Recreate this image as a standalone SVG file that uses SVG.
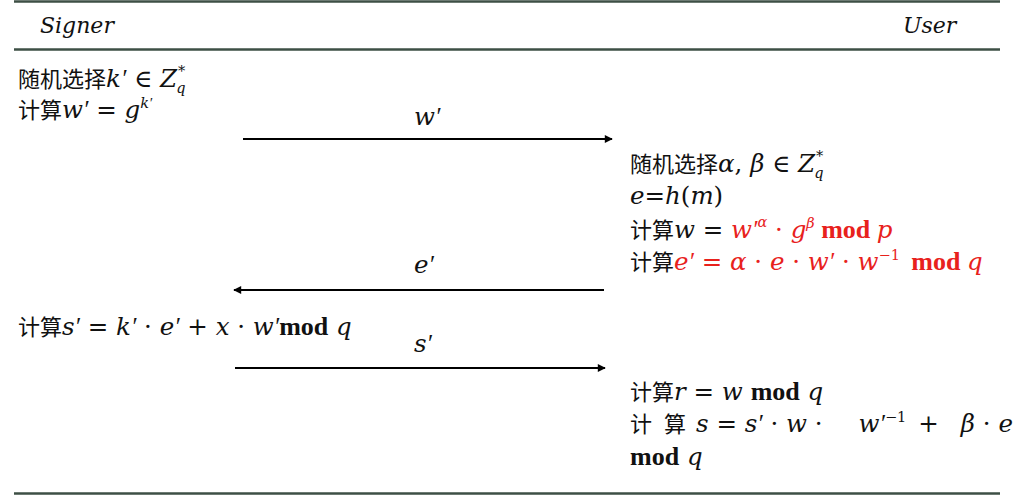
<svg xmlns="http://www.w3.org/2000/svg" width="1024" height="496" viewBox="0 0 1024 496">
<defs>
<marker id="ah" viewBox="0 0 10 10" refX="9" refY="5" markerWidth="10" markerHeight="8" markerUnits="userSpaceOnUse" orient="auto"><path d="M0,0 L10,5 L0,10 z" fill="#000"/></marker>
<style>
.rule{stroke:#3d4f45;stroke-width:2.5}
.t{font-family:"DejaVu Serif","Noto Sans CJK SC",serif;font-size:24.5px;fill:#111}
.h{font-size:22px}
.cjk{font-family:"Noto Sans CJK SC",sans-serif;font-size:22px}
.i{font-style:italic}
.b{font-weight:bold;font-family:"Liberation Serif",serif;font-size:26px}
.p{font-family:"Liberation Serif",serif;font-style:italic}
.r{fill:#e8211c}
.sup{font-size:14.5px}
.conn{stroke:#000;stroke-width:2;fill:none;marker-end:url(#ah)}
</style>
</defs>
<rect width="1024" height="496" fill="#fff"/>
<g id="table-rules">
<line class="rule" x1="14" y1="1.5" x2="1000" y2="1.5"/>
<line class="rule" x1="14" y1="49.5" x2="1000" y2="49.5"/>
<line class="rule" x1="14" y1="493.5" x2="1000" y2="493.5"/>
</g>
<g id="header-signer"><text class="t h i" x="40" y="33">Signer</text></g>
<g id="header-user"><text class="t h i" x="903" y="33">User</text></g>
<g id="signer-step1">
<text class="t" x="18" y="87"><tspan class="cjk">随机选择</tspan><tspan class="i">k</tspan><tspan class="p">′</tspan> ∈ <tspan class="i">Z</tspan><tspan class="i sup" dx="1" dy="-11">*</tspan><tspan class="i sup" dx="-9" dy="17">q</tspan></text>
<text class="t" x="18" y="118"><tspan class="cjk">计算</tspan><tspan class="i">w</tspan><tspan class="p">′</tspan> = <tspan class="i">g</tspan><tspan class="i sup" dy="-10">k</tspan><tspan class="p sup">′</tspan></text>
</g>
<g id="user-step1">
<text class="t" x="630" y="172"><tspan class="cjk">随机选择</tspan><tspan class="i">α</tspan>, <tspan class="i">β</tspan> ∈ <tspan class="i">Z</tspan><tspan class="i sup" dx="1" dy="-11">*</tspan><tspan class="i sup" dx="-9" dy="17">q</tspan></text>
<text class="t" x="630" y="204"><tspan class="i">e</tspan>=<tspan class="i">h</tspan>(<tspan class="i">m</tspan>)</text>
<text class="t" x="630" y="238"><tspan class="cjk">计算</tspan><tspan class="i">w</tspan> = <tspan class="r i">w</tspan><tspan class="r p">′</tspan><tspan class="r i sup" dy="-11">α</tspan><tspan class="r" dy="11"> · </tspan><tspan class="r i">g</tspan><tspan class="r i sup" dy="-10">β</tspan><tspan class="r b" dy="10"> mod </tspan><tspan class="r i">p</tspan></text>
<text class="t" x="630" y="270"><tspan class="cjk">计算</tspan><tspan class="r i">e</tspan><tspan class="r p">′</tspan><tspan class="r"> = </tspan><tspan class="r i">α</tspan><tspan class="r"> · </tspan><tspan class="r i">e</tspan><tspan class="r"> · </tspan><tspan class="r i">w</tspan><tspan class="r p">′</tspan><tspan class="r"> · </tspan><tspan class="r i">w</tspan><tspan class="r sup" dy="-10">−1</tspan><tspan class="r b" dy="10" dx="5"> mod </tspan><tspan class="r i">q</tspan></text>
</g>
<g id="signer-step2">
<text class="t" x="18" y="335"><tspan class="cjk">计算</tspan><tspan class="i">s</tspan><tspan class="p">′</tspan> = <tspan class="i">k</tspan><tspan class="p">′</tspan> · <tspan class="i">e</tspan><tspan class="p">′</tspan> + <tspan class="i">x</tspan> · <tspan class="i">w</tspan><tspan class="p">′</tspan><tspan class="b">mod</tspan> <tspan class="i">q</tspan></text>
</g>
<g id="user-step2">
<text class="t" x="630" y="400"><tspan class="cjk">计算</tspan><tspan class="i">r</tspan> = <tspan class="i">w</tspan> <tspan class="b">mod</tspan> <tspan class="i">q</tspan></text>
<text class="t" x="630" y="432"><tspan class="cjk">计</tspan><tspan class="cjk" dx="12">算</tspan><tspan class="i" dx="10">s</tspan> = <tspan class="i">s</tspan><tspan class="p">′</tspan> · <tspan class="i">w</tspan> ·<tspan class="i" dx="36">w</tspan><tspan class="p">′</tspan><tspan class="sup" dy="-10">−1</tspan><tspan dy="10" dx="12">+</tspan><tspan class="i" dx="22">β</tspan> · <tspan class="i">e</tspan></text>
<text class="t" x="630" y="465"><tspan class="b">mod</tspan> <tspan class="i">q</tspan></text>
</g>
<g id="connectors">
<line class="conn" x1="243" y1="139" x2="612" y2="139"/>
<line class="conn" x1="604" y1="290" x2="234" y2="290"/>
<line class="conn" x1="235" y1="368" x2="605" y2="368"/>
</g>
<g id="connector-labels">
<text class="t i" x="414" y="125">w<tspan class="p">′</tspan></text>
<text class="t i" x="414" y="273">e<tspan class="p">′</tspan></text>
<text class="t i" x="414" y="352">s<tspan class="p">′</tspan></text>
</g>
</svg>
